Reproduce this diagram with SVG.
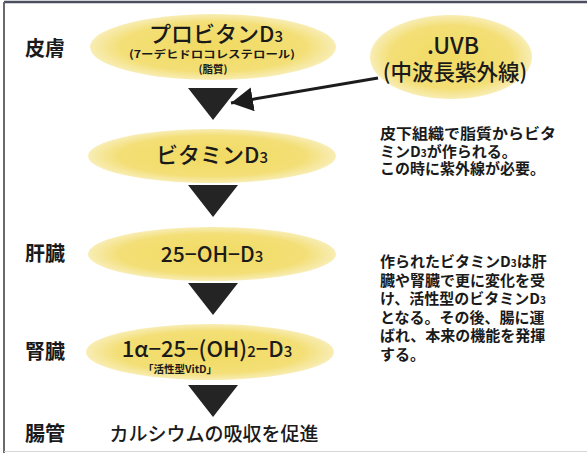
<svg xmlns="http://www.w3.org/2000/svg" width="587" height="453" viewBox="0 0 587 453">
<style>
text{font-family:"Noto Sans CJK JP","Noto Sans",sans-serif;fill:#1a1a1a}
.lbl{font-size:20px;font-weight:700}
.big{font-size:22px;font-weight:500}
.sm{font-size:10.5px;font-weight:700}
.note{font-size:15px;font-weight:700}
.ell{fill:url(#yel)}
.tri{fill:#242424}
</style>
<defs>
<radialGradient id="yel" cx="50%" cy="50%" r="50%">
<stop offset="0" stop-color="#f1da62"/>
<stop offset="0.75" stop-color="#f3df76"/>
<stop offset="1" stop-color="#f8edb5"/>
</radialGradient>
<marker id="ah" markerUnits="userSpaceOnUse" markerWidth="23" markerHeight="25" refX="22" refY="12" orient="auto">
<path d="M0,0 L22,12 L0,24 z" fill="#1c1c1c"/>
</marker>
</defs>
<rect width="587" height="453" fill="#fff"/>
<g id="frame">
<line x1="4" y1="2" x2="587" y2="2" stroke="#4a4e5e" stroke-width="2.5"/>
<line x1="4" y1="2" x2="4" y2="453" stroke="#6a6a6a" stroke-width="2"/>
<line x1="4" y1="451.5" x2="587" y2="451.5" stroke="#d6d6d6" stroke-width="1"/>
</g>
<g id="labels">
<text class="lbl" x="25" y="56">皮膚</text>
<text class="lbl" x="25" y="261">肝臓</text>
<text class="lbl" x="25" y="359">腎臓</text>
<text class="lbl" x="25" y="441">腸管</text>
</g>
<g id="connectors">
<line x1="378" y1="78" x2="231" y2="103" stroke="#1c1c1c" stroke-width="3" marker-end="url(#ah)"/>
<polygon class="tri" points="188,88 238,88 213,120"/>
<polygon class="tri" points="188,185 238,185 213,217"/>
<polygon class="tri" points="188,283 238,283 213,315"/>
<polygon class="tri" points="188,385 238,385 213,417"/>
</g>
<g id="provitamin">
<ellipse class="ell" cx="213" cy="47" rx="123" ry="33"/>
<text class="big" x="216" y="42" text-anchor="middle">プロビタンD<tspan font-size="15">3</tspan></text>
<text class="sm" x="212" y="58" text-anchor="middle" textLength="166" lengthAdjust="spacingAndGlyphs">(7ーデヒドロコレステロール)</text>
<text class="sm" x="213" y="73" text-anchor="middle">(脂質)</text>
</g>
<g id="uvb">
<ellipse class="ell" cx="451" cy="57" rx="81" ry="42"/>
<text x="453" y="54" text-anchor="middle" font-size="23" font-weight="500">.UVB</text>
<text x="455" y="80" text-anchor="middle" font-size="21.5" font-weight="500">(中波長紫外線)</text>
</g>
<g id="vitd3">
<ellipse class="ell" cx="212" cy="156" rx="124" ry="27"/>
<text class="big" x="212" y="163" text-anchor="middle">ビタミンD<tspan font-size="15">3</tspan></text>
</g>
<g id="ohd3">
<ellipse class="ell" cx="212" cy="254" rx="124" ry="27"/>
<text x="212" y="262" text-anchor="middle" font-size="21" font-weight="500">25−OH−D<tspan font-size="15">3</tspan></text>
</g>
<g id="active">
<ellipse class="ell" cx="210" cy="352" rx="124" ry="28"/>
<text class="big" x="207" y="357" text-anchor="middle">1α−25−(OH)<tspan font-size="15">2</tspan>−D<tspan font-size="15">3</tspan></text>
<text class="sm" x="180" y="373" text-anchor="middle">「活性型VitD」</text>
</g>
<g id="calcium">
<text x="214" y="441" text-anchor="middle" font-size="19" font-weight="500">カルシウムの吸収を促進</text>
</g>
<g id="note1">
<text class="note" x="380" y="139" textLength="176" lengthAdjust="spacingAndGlyphs">皮下組織で脂質からビタ</text>
<text class="note" x="380" y="157">ミンD<tspan font-size="10">3</tspan>が作られる。</text>
<text class="note" x="380" y="174">この時に紫外線が必要。</text>
</g>
<g id="note2">
<text class="note" x="380" y="267">作られたビタミンD<tspan font-size="10">3</tspan>は肝</text>
<text class="note" x="380" y="285.6">臓や腎臓で更に変化を受</text>
<text class="note" x="380" y="304.2">け、活性型のビタミンD<tspan font-size="10">3</tspan></text>
<text class="note" x="380" y="322.8">となる。その後、腸に運</text>
<text class="note" x="380" y="341.4">ばれ、本来の機能を発揮</text>
<text class="note" x="380" y="360">する。</text>
</g>
</svg>
